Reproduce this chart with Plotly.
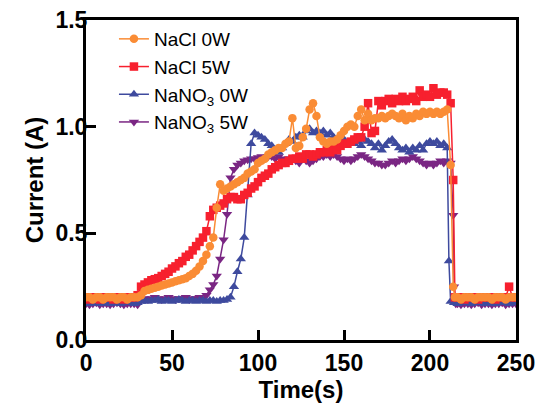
import plotly.graph_objects as go

# ---------------- data ----------------
t_main = list(range(0, 211, 2))  # 0..210 s, every 2 s

nacl0_main = [0.20,0.20,0.19,0.20,0.20,0.19,0.20,0.20,0.20,0.19,
              0.20,0.20,0.19,0.20,0.20,0.20,0.21,0.23,0.235,0.24,
              0.245,0.25,0.255,0.26,0.265,0.27,0.275,0.28,0.285,0.29,
              0.30,0.31,0.325,0.345,0.37,0.40,0.44,0.48,0.62,0.73,
              0.70,0.71,0.72,0.73,0.74,0.75,0.76,0.78,0.79,0.80,
              0.83,0.84,0.85,0.87,0.88,0.89,0.90,0.90,0.92,0.93,
              1.04,0.90,0.91,0.95,0.99,1.08,1.11,1.05,0.95,0.93,
              0.92,0.93,0.93,0.94,0.96,0.98,1.00,1.01,1.00,1.05,
              1.08,1.03,1.06,1.03,1.04,1.04,1.05,1.04,1.05,1.06,
              1.05,1.04,1.06,1.03,1.05,1.04,1.06,1.05,1.07,1.06,
              1.07,1.06,1.07,1.06,1.07,1.08]
nacl0_tail_t = [212, 213.5, 214.5] + list(range(216, 251, 2))
nacl0_tail = [0.82, 0.25, 0.20,
              0.20,0.19,0.20,0.20,0.20,0.19,0.20,0.20,0.20,0.20,0.19,0.20,0.20,0.20,0.19,0.20,0.20,0.20]

nacl5_main = [0.20,0.19,0.20,0.20,0.19,0.20,0.20,0.20,0.19,0.20,
              0.20,0.19,0.20,0.20,0.20,0.21,0.25,0.26,0.27,0.28,
              0.285,0.29,0.30,0.31,0.32,0.335,0.345,0.36,0.37,0.39,
              0.40,0.42,0.44,0.46,0.48,0.51,0.58,0.61,0.62,0.63,
              0.64,0.66,0.67,0.67,0.66,0.66,0.68,0.69,0.71,0.72,
              0.74,0.76,0.77,0.78,0.80,0.81,0.82,0.83,0.83,0.84,
              0.85,0.85,0.86,0.85,0.87,0.87,0.86,0.87,0.88,0.88,
              0.89,0.88,0.90,0.89,0.91,0.92,0.92,0.93,0.94,0.95,
              0.95,1.00,1.11,0.97,0.98,1.12,1.10,1.12,1.13,1.11,
              1.13,1.12,1.14,1.12,1.13,1.14,1.12,1.17,1.14,1.15,
              1.14,1.18,1.15,1.16,1.16,1.15]
nacl5_tail_t = [212, 213.5, 214.5] + list(range(216, 251, 2))
nacl5_tail = [1.11, 0.75, 0.20,
              0.20,0.20,0.19,0.20,0.20,0.20,0.19,0.20,0.20,0.20,0.20,0.19,0.20,0.20,0.20,0.25,0.20,0.20]

nano0_main = [0.175,0.17,0.175,0.18,0.17,0.175,0.175,0.17,0.18,0.175,
              0.17,0.175,0.175,0.18,0.17,0.175,0.18,0.185,0.18,0.185,
              0.185,0.19,0.18,0.185,0.185,0.18,0.185,0.19,0.185,0.18,
              0.185,0.185,0.18,0.185,0.185,0.18,0.185,0.185,0.18,0.185,
              0.185,0.19,0.20,0.25,0.32,0.38,0.48,0.68,0.92,0.97,
              0.96,0.95,0.94,0.92,0.91,0.89,0.88,0.90,0.92,0.94,
              0.93,0.95,0.96,0.95,0.98,0.99,0.97,0.98,0.97,0.98,
              0.96,0.97,0.95,0.94,0.93,0.94,0.92,0.93,0.92,0.93,
              0.91,0.94,0.93,0.92,0.90,0.92,0.89,0.91,0.93,0.94,
              0.92,0.90,0.89,0.90,0.88,0.90,0.89,0.91,0.89,0.92,
              0.93,0.92,0.93,0.91,0.92,0.90]
nano0_tail_t = [211, 212] + list(range(214, 251, 2))
nano0_tail = [0.37, 0.18,
              0.175,0.17,0.175,0.18,0.175,0.17,0.175,0.175,0.18,0.17,
              0.175,0.175,0.17,0.18,0.175,0.175,0.17,0.175,0.18]

nano5_main = [0.17,0.165,0.17,0.175,0.165,0.17,0.17,0.165,0.17,0.175,
              0.17,0.165,0.17,0.17,0.17,0.165,0.185,0.195,0.19,0.195,
              0.20,0.195,0.19,0.195,0.20,0.195,0.19,0.195,0.195,0.20,
              0.19,0.195,0.195,0.20,0.195,0.21,0.235,0.26,0.30,0.38,
              0.47,0.59,0.76,0.80,0.82,0.83,0.84,0.845,0.85,0.85,
              0.855,0.86,0.85,0.86,0.86,0.85,0.86,0.85,0.84,0.85,
              0.85,0.84,0.83,0.85,0.84,0.83,0.84,0.85,0.86,0.86,
              0.87,0.86,0.87,0.86,0.85,0.84,0.85,0.84,0.85,0.86,
              0.87,0.86,0.85,0.84,0.83,0.83,0.82,0.82,0.83,0.84,
              0.83,0.84,0.85,0.84,0.85,0.86,0.85,0.84,0.83,0.82,
              0.83,0.82,0.83,0.84,0.83,0.84]
nano5_tail_t = [212, 213.5, 214, 215] + list(range(216, 251, 2))
nano5_tail = [0.83, 0.585, 0.25, 0.17,
              0.17,0.165,0.17,0.17,0.165,0.17,0.175,0.165,0.17,0.17,
              0.165,0.17,0.17,0.175,0.165,0.17,0.17,0.17]

x_ticks = [0, 50, 100, 150, 200, 250]
y_ticks = [0.0, 0.5, 1.0, 1.5]
y_tick_labels = ["0.0", "0.5", "1.0", "1.5"]

# ---------------- figure ----------------
series = [
    # name, times, values, colour, symbol, size, rank
    ("NaNO<sub>3</sub> 5W", t_main + nano5_tail_t, nano5_main + nano5_tail, "#7A2683", "triangle-down", 9, 4),
    ("NaNO<sub>3</sub> 0W", t_main + nano0_tail_t, nano0_main + nano0_tail, "#3E4A9E", "triangle-up", 9, 3),
    ("NaCl 5W", t_main + nacl5_tail_t, nacl5_main + nacl5_tail, "#F7202E", "square", 8.5, 2),
    ("NaCl 0W", t_main + nacl0_tail_t, nacl0_main + nacl0_tail, "#FA8C35", "circle", 8.5, 1),
]

fig = go.Figure()
for name, tx, vy, col, sym, sz, rank in series:
    fig.add_trace(go.Scatter(
        x=tx, y=vy, name=name, mode="lines+markers",
        line=dict(color=col, width=1.5),
        marker=dict(color=col, symbol=sym, size=sz, line=dict(width=0)),
        legendgroup=name, legendrank=rank,
    ))

fam = "Liberation Sans, Arial, sans-serif"
axis_font = dict(family=fam, size=23, color="black", weight="bold")
title_font = dict(family=fam, size=24, color="black", weight="bold")

fig.update_layout(
    width=535, height=412,
    margin=dict(l=86, r=19, t=20, b=72),
    plot_bgcolor="white", paper_bgcolor="white",
    font=dict(family=fam, color="black"),
    showlegend=True,
    legend=dict(
        x=0.065, y=1.0, xanchor="left", yanchor="top",
        bgcolor="rgba(0,0,0,0)", borderwidth=0,
        font=dict(size=19, color="black", family=fam),
        tracegroupgap=0, traceorder="grouped", itemwidth=30,
    ),
    xaxis=dict(
        range=[-0.01, 250.01], tickvals=x_ticks, ticktext=[str(v) for v in x_ticks],
        showgrid=False, zeroline=False, automargin=False,
        showline=True, linecolor="black", linewidth=3, mirror=True,
        ticks="inside", ticklen=10, tickwidth=3, tickcolor="black",
        tickfont=axis_font, ticklabelstandoff=0, ticklabeloverflow="allow",
        title=dict(text="Time(s)", font=title_font, standoff=2),
    ),
    yaxis=dict(
        range=[0, 1.5], tickvals=y_ticks, ticktext=y_tick_labels,
        showgrid=False, zeroline=False, automargin=False,
        showline=True, linecolor="black", linewidth=3, mirror=True,
        ticks="inside", ticklen=10, tickwidth=3, tickcolor="black",
        tickfont=axis_font, ticklabelstandoff=-9, ticklabeloverflow="allow",
        title=dict(text="Current (A)", font=title_font, standoff=6),
    ),
)

# remove the browser's default 8 px page margin so the 535x412 figure fills the window
fig.write_html(
    "out.html",
    config={"displayModeBar": False},
    post_script="document.body.style.margin='0';document.body.style.overflow='hidden';",
)
